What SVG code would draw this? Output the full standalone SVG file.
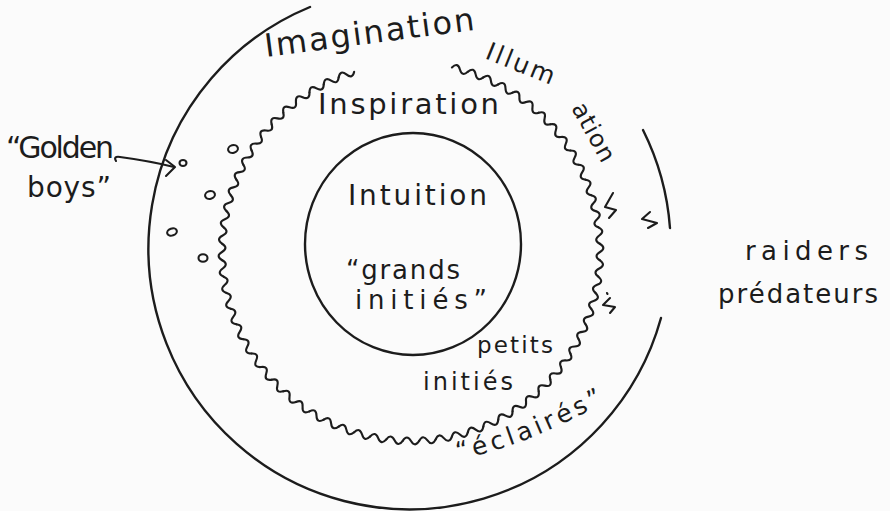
<svg xmlns="http://www.w3.org/2000/svg" width="890" height="511" viewBox="0 0 890 511">
<style>
.ink{fill:none;stroke:#1c1c1c;stroke-width:2.4;stroke-linecap:round;stroke-linejoin:round}
.thin{stroke-width:2.1}
.t{font-family:"DejaVu Sans","Liberation Sans",sans-serif;fill:#1c1c1c}
</style>
<defs>
<path id="w1" d="M -8.24 -188.82 Q -4.12 -195.8 0 -189 T 8.24 -188.82"/>
<g id="w6">
<use href="#w1"/>
<use href="#w1" transform="rotate(5)"/>
<use href="#w1" transform="rotate(10)"/>
<use href="#w1" transform="rotate(15)"/>
<use href="#w1" transform="rotate(20)"/>
<use href="#w1" transform="rotate(25)"/>
</g>
<path id="arcEclaires" d="M 458 460 Q 530 445 612 398"/>
</defs>
<rect width="890" height="511" fill="#fbfbfb"/>

<g id="outer-circle" class="ink">
<path d="M 310 7 A 261 261 0 1 0 661 318"/>
<path d="M 643 130 A 261 261 0 0 1 670 228"/>
</g>

<g id="middle-circle" class="ink thin" transform="translate(411 252)">
<use href="#w6" transform="rotate(15)"/>
<use href="#w6" transform="rotate(45)"/>
<use href="#w6" transform="rotate(75)"/>
<use href="#w6" transform="rotate(105)"/>
<use href="#w6" transform="rotate(135)"/>
<use href="#w6" transform="rotate(165)"/>
<use href="#w6" transform="rotate(195)"/>
<use href="#w6" transform="rotate(225)"/>
<use href="#w6" transform="rotate(255)"/>
<use href="#w6" transform="rotate(285)"/>
<use href="#w6" transform="rotate(315)"/>
</g>

<g id="inner-circle" class="ink">
<ellipse cx="413" cy="244" rx="108" ry="111"/>
</g>

<g id="label-imagination">
<text class="t" x="266" y="57" font-size="32" textLength="211" lengthAdjust="spacing" transform="rotate(-7.4 266 57)">Imagination</text>
</g>
<g id="label-illumination">
<text class="t" x="484" y="58" font-size="25" textLength="72" lengthAdjust="spacing" transform="rotate(22 484 58)">Illum</text>
<text class="t" x="571" y="108" font-size="24" textLength="64" lengthAdjust="spacing" transform="rotate(61 571 108)">ation</text>
</g>
<g id="label-inspiration">
<text class="t" x="318" y="114" font-size="29" textLength="181" lengthAdjust="spacing">Inspiration</text>
</g>
<g id="label-intuition">
<text class="t" x="348" y="205" font-size="28" textLength="139" lengthAdjust="spacing">Intuition</text>
<text class="t" x="346" y="279" font-size="26" textLength="114" lengthAdjust="spacing">“grands</text>
<text class="t" x="355" y="309" font-size="26" textLength="132" lengthAdjust="spacing">initiés”</text>
</g>
<g id="label-petits-inities">
<text class="t" x="477" y="353" font-size="23" textLength="76" lengthAdjust="spacing">petits</text>
<text class="t" x="423" y="390" font-size="24" textLength="90" lengthAdjust="spacing">initiés</text>
</g>
<g id="label-eclaires">
<text class="t" font-size="25"><textPath href="#arcEclaires" textLength="158" lengthAdjust="spacing">“éclairés”</textPath></text>
</g>
<g id="label-golden-boys">
<text class="t" x="6" y="158" font-size="30" textLength="108" lengthAdjust="spacing">“Golden</text>
<text class="t" x="27" y="197" font-size="28" textLength="84" lengthAdjust="spacing">boys”</text>
</g>
<g id="golden-boys-marks" class="ink thin">
<ellipse cx="183" cy="163" rx="3.5" ry="3"/>
<ellipse cx="233" cy="149" rx="5" ry="3.8" transform="rotate(-15 233 149)"/>
<ellipse cx="210" cy="195" rx="5" ry="3.8" transform="rotate(-15 210 195)"/>
<ellipse cx="172" cy="232" rx="5" ry="3.5" transform="rotate(-20 172 232)"/>
<ellipse cx="203" cy="258" rx="4.5" ry="3.8"/>
</g>
<g id="label-raiders">
<text class="t" x="745" y="260" font-size="26" textLength="123" lengthAdjust="spacing">raiders</text>
<text class="t" x="718" y="303" font-size="26" textLength="160" lengthAdjust="spacing">prédateurs</text>
</g>
<g id="predator-marks" class="ink thin">
<path d="M 613 193 L 605 207 L 616 210 L 609 218"/>
<path d="M 650 212 L 642 219 L 657 223 L 648 228"/>
<path d="M 607 293 L 607.5 294"/>
<path d="M 610 298 L 603 305 L 615 307 L 610 313"/>
</g>

<g id="connectors" class="ink thin">
<path d="M 116 161 Q 113 156 120 157 Q 150 161 174 167"/>
<path d="M 166 160 L 175 167 L 166 176"/>
</g>
</svg>
